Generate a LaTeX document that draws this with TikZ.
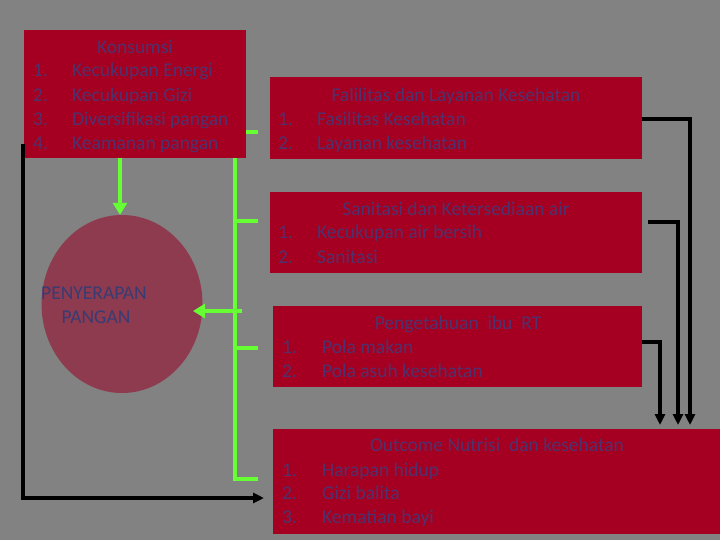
\documentclass[tikz,border=0pt]{standalone}
\usepackage{fontspec}
\setmainfont{Carlito}
\usetikzlibrary{arrows.meta,shapes.geometric}
\definecolor{bg}{HTML}{828282}
\definecolor{boxred}{HTML}{A50021}
\definecolor{circfill}{HTML}{8E3A4F}
\definecolor{txt}{HTML}{4E326E}
\definecolor{ctxt}{HTML}{383C74}
\definecolor{grn}{HTML}{66FF33}
\tikzset{
  redbox/.style={fill=boxred, draw=none, inner sep=0pt, anchor=north west},
  lbl/.style={text=txt, font=\fontsize{19.5}{24}\selectfont, inner sep=0pt, anchor=base},
  lblw/.style={lbl, anchor=base west},
  gline/.style={draw=grn, line width=4pt},
  garrow/.style={gline, -{Triangle[length=12pt,width=14pt]}},
  bline/.style={draw=black, line width=3.5pt},
  barrow/.style={bline, -{Triangle[length=11pt,width=10pt]}}
}
\begin{document}
\begin{tikzpicture}[x=1pt,y=-1pt]
\fill[bg] (0,0) rectangle (720,540);
\useasboundingbox (0,0) rectangle (720,540);

% boxes
\node[redbox, minimum width=222pt, minimum height=128pt] (kons) at (24,30) {};
\node[redbox, minimum width=372pt, minimum height=82pt] (fas) at (270,77) {};
\node[redbox, minimum width=372pt, minimum height=81pt] (san) at (270,192) {};
\node[redbox, minimum width=369pt, minimum height=81pt] (pen) at (273,306) {};
\node[redbox, minimum width=447pt, minimum height=105pt] (out) at (273,429) {};
\node[ellipse, fill=circfill, draw=none, minimum width=161pt, minimum height=178pt, inner sep=0pt] (pny) at (122,304) {};

% texts box 1
\node[lbl] (k0) at (135,53.3) {Konsumsi};
\node[lblw] (k1n) at (33,77) {1.};
\node[lblw] (k1) at (72,77) {Kecukupan Energi};
\node[lblw] (k2n) at (33,101.5) {2.};
\node[lblw] (k2) at (72,101.5) {Kecukupan Gizi};
\node[lblw] (k3n) at (33,125.5) {3.};
\node[lblw] (k3) at (72,125.5) {Diversifikasi pangan};
\node[lblw] (k4n) at (33,149.5) {4.};
\node[lblw] (k4) at (72,149.5) {Keamanan pangan};

% box 2
\node[lbl] (f0) at (456,101.5) {Falilitas dan Layanan Kesehatan};
\node[lblw] (f1n) at (278,125.5) {1.};
\node[lblw] (f1) at (317,125.5) {Fasilitas Kesehatan};
\node[lblw] (f2n) at (278,149.5) {2.};
\node[lblw] (f2) at (317,149.5) {Layanan kesehatan};

% box 3
\node[lbl] (s0) at (456,215) {Sanitasi dan Ketersediaan air};
\node[lblw] (s1n) at (278,239) {1.};
\node[lblw] (s1) at (317,239) {Kecukupan air bersih};
\node[lblw] (s2n) at (278,263) {2.};
\node[lblw] (s2) at (317,263) {Sanitasi};

% box 4
\node[lbl] (p0) at (458,329) {Pengetahuan\ \ ibu\ \ RT};
\node[lblw] (p1n) at (282,353) {1.};
\node[lblw] (p1) at (322,353) {Pola makan};
\node[lblw] (p2n) at (282,377) {2.};
\node[lblw] (p2) at (322,377) {Pola asuh kesehatan};

% box 5
\node[lbl] (o0) at (497,451.5) {Outcome Nutrisi\ \ dan kesehatan};
\node[lblw] (o1n) at (282,476) {1.};
\node[lblw] (o1) at (322,476) {Harapan hidup};
\node[lblw] (o2n) at (282,499.5) {2.};
\node[lblw] (o2) at (322,499.5) {Gizi balita};
\node[lblw] (o3n) at (282,523) {3.};
\node[lblw] (o3) at (322,523) {Kematian bayi};

% circle text
\node[lbl, text=ctxt] (c1) at (94,299) {PENYERAPAN};
\node[lbl, text=ctxt] (c2) at (96,323) {PANGAN};

% green connectors
\coordinate (ga) at (120,158);
\draw[garrow] (ga) -- (ga |- pny.north);
\coordinate (gtop) at (235,158);
\coordinate (gbot) at (235,479);
\coordinate (gend) at (258,479);
\draw[gline] (gtop) -- (gbot) -- (gend);
\coordinate (gk) at (258,132);
\draw[gline] (kons.east |- gk) -- (gk);
\coordinate (gs) at (258,221);
\draw[gline] (gs -| gtop) -- (gs);
\coordinate (gp) at (258,348);
\draw[gline] (gp -| gtop) -- (gp);
\coordinate (gar) at (242,311);
\coordinate (gat) at (193,311);
\draw[garrow] (gar) -- (gat);

% black connectors
\coordinate (bl) at (23,144);
\coordinate (bb) at (23,498);
\coordinate (bt) at (264,498);
\draw[barrow] (bl) -- (bb) -- (bt);
\coordinate (f1c) at (690,425);
\draw[barrow] (fas.east |- 0,119) -| (f1c);
\coordinate (s1c) at (678,425);
\coordinate (s1s) at (648,222);
\draw[barrow] (s1s) -| (s1c);
\coordinate (p1c) at (660,425);
\draw[barrow] (pen.east |- 0,342) -| (p1c);
\end{tikzpicture}
\end{document}
